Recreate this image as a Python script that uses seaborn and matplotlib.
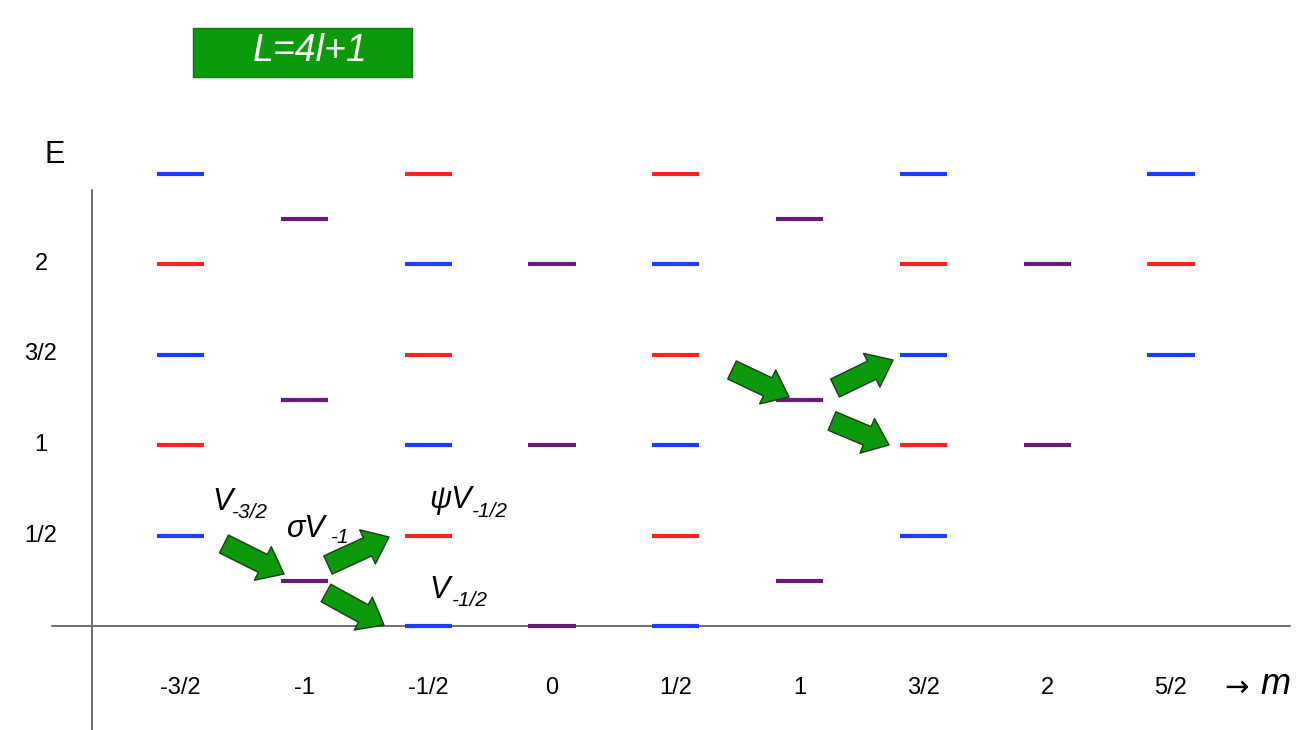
import matplotlib
matplotlib.use("Agg")
import matplotlib.pyplot as plt
from matplotlib.patches import FancyArrowPatch, Rectangle, ArrowStyle
import seaborn as sns
import pandas as pd

# energy levels per colour: magnetic quantum number m and energy E
blue_m = [-1.5, -1.5, -1.5, -0.5, -0.5, -0.5, 0.5, 0.5, 0.5, 1.5, 1.5, 1.5, 2.5, 2.5]
blue_E = [2.5, 1.5, 0.5, 2.0, 1.0, 0.0, 2.0, 1.0, 0.0, 2.5, 1.5, 0.5, 2.5, 1.5]
red_m = [-1.5, -1.5, -0.5, -0.5, -0.5, 0.5, 0.5, 0.5, 1.5, 1.5, 2.5]
red_E = [2.0, 1.0, 2.5, 1.5, 0.5, 2.5, 1.5, 0.5, 2.0, 1.0, 2.0]
purple_m = [-1, -1, -1, 0, 0, 0, 1, 1, 1, 2, 2]
purple_E = [2.25, 1.25, 0.25, 2.0, 1.0, 0.0, 2.25, 1.25, 0.25, 2.0, 1.0]

x_ticks = [-1.5, -1, -0.5, 0, 0.5, 1, 1.5, 2, 2.5]
x_labels = ["-3/2", "-1", "-1/2", "0", "1/2", "1", "3/2", "2", "5/2"]
y_ticks = [0.5, 1.0, 1.5, 2.0]
y_labels = ["1/2", "1", "3/2", "2"]

df = pd.concat([
    pd.DataFrame({"m": blue_m, "E": blue_E, "kind": "blue"}),
    pd.DataFrame({"m": red_m, "E": red_E, "kind": "red"}),
    pd.DataFrame({"m": purple_m, "E": purple_E, "kind": "purple"}),
])
palette = {"blue": "#1f3bff", "red": "#ff2222", "purple": "#6a1b7a"}

sns.set_style("white")
plt.rcParams["font.family"] = ["Liberation Sans", "DejaVu Sans"]
plt.rcParams["text.color"] = "black"

W, H = 1298, 730
X0, SX = 552, 247.6   # pixel of m=0, pixels per unit m
Y0, SY = 626, 181     # pixel of E=0, pixels per unit E

def px(x, y):
    return (x - X0) / SX, (Y0 - y) / SY

fig = plt.figure(figsize=(W / 100, H / 100), dpi=100)
ax = fig.add_axes([0, 0, 1, 1])
ax.set_xlim(-X0 / SX, (W - X0) / SX)
ax.set_ylim(-(H - Y0) / SY, Y0 / SY)
ax.axis("off")

# axes lines
axc = "#6e6e6e"
(xa, ya), (xb, yb) = px(92, 190), px(92, 730)
ax.plot([xa, xb], [ya, yb], color=axc, lw=1.4, zorder=1)
(xa, ya), (xb, yb) = px(52, 626), px(1290, 626)
ax.plot([xa, xb], [ya, yb], color=axc, lw=1.4, zorder=1)

# levels
sns.scatterplot(data=df, x="m", y="E", hue="kind", palette=palette,
                marker="_", s=34 ** 2, linewidth=3.0, legend=False, ax=ax, zorder=3)
ax.set_xlabel("")
ax.set_ylabel("")

# tick labels
for m, lab in zip(x_ticks, x_labels):
    ax.text(m, px(0, 688)[1], lab, ha="center", va="center", fontsize=17)
for e, lab in zip(y_ticks, y_labels):
    ax.text(px(41, 0)[0], e, lab, ha="center", va="center", fontsize=17)
ax.text(*px(55, 155), "E", ha="center", va="center", fontsize=22)
ax.text(*px(1236, 688), "\u2192", ha="center", va="center", fontsize=21, family="DejaVu Sans")
ax.text(*px(1275, 685), "m", ha="center", va="center", fontsize=26, style="italic")

# transition arrows (pixel positions of tail and tip)
arrows = [((224, 544), (284, 574)), ((328, 565), (389, 537)), ((326, 593), (384, 625)),
          ((732, 370), (789, 397)), ((835, 388), (893, 360)), ((832, 421), (889, 445))]
style = ArrowStyle.Simple(head_length=0.85, head_width=1.35, tail_width=0.72)
for a, b in arrows:
    ax.add_patch(FancyArrowPatch(px(*a), px(*b), arrowstyle=style, mutation_scale=20,
                                 fc="#0b9a0b", ec="#1a3a1a", lw=1.0,
                                 shrinkA=0, shrinkB=0, zorder=4))

# state labels: main symbol, then subscript
labels = [((212, 510), "V", (232, 518), "-3/2"),
          ((287, 537), "\u03c3V", (331, 543), "-1"),
          ((429, 508), "\u03c8V", (472, 517), "-1/2"),
          ((429, 598), "V", (452, 606), "-1/2")]
for pos, main, spos, sub in labels:
    ax.text(*px(*pos), main, fontsize=22, style="italic", ha="left", va="baseline")
    ax.text(*px(*spos), sub, fontsize=15, style="italic", ha="left", va="baseline")

# title box
fig.patches.append(Rectangle((193 / W, 1 - 77 / H), (412 - 193) / W, 49 / H,
                             transform=fig.transFigure, fc="#0b9a0b", ec="#0a7a0a", lw=1))
fig.text(310 / W, 1 - 51 / H, "L=4l+1", color="white", fontsize=27, style="italic",
         ha="center", va="center")

fig.savefig("out.png", dpi=100)
